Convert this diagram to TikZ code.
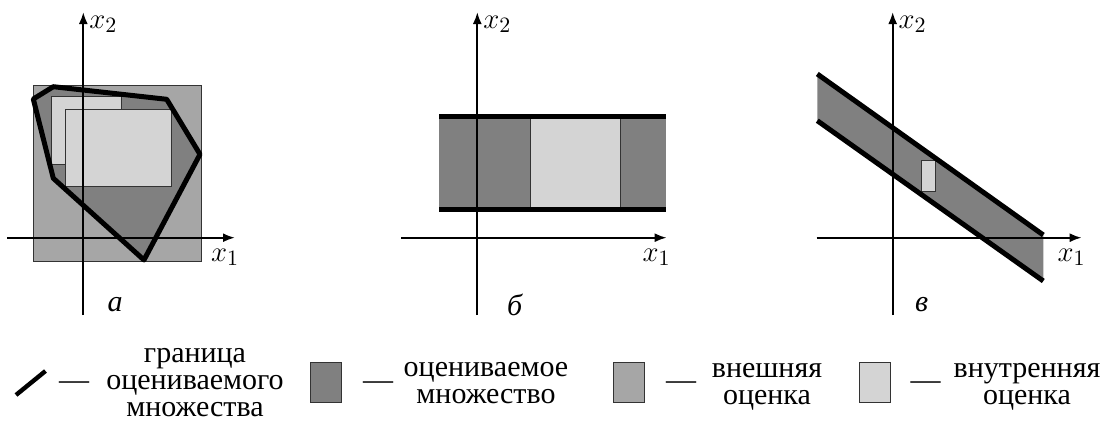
\documentclass[tikz,border=0pt]{standalone}
\usepackage{fontspec}
\setmainfont{Liberation Serif}
\usetikzlibrary{arrows.meta}
\definecolor{setgray}{gray}{0.5}
\definecolor{outergray}{gray}{0.65}
\definecolor{innergray}{gray}{0.83}
\tikzset{
  axis/.style={line width=1.1pt, -{Latex[length=6pt,width=4.5pt]}},
  bound/.style={line width=2.5pt, line join=round},
  thinbox/.style={draw=black!80, line width=0.5pt},
  legbox/.style={thinbox, minimum width=15.5pt, minimum height=20pt, inner sep=0pt},
  legtext/.style={align=center, inner sep=0pt},
}

\begin{document}
\begin{tikzpicture}[x=0.5pt, y=-0.5pt, font=\fontsize{15}{13.5}\selectfont]
  \useasboundingbox (0,0) rectangle (1109,423);
  % panel a: outer and inner estimates of a polygon
  \draw[thinbox, fill=outergray] (33.3,85.7) rectangle (201,261.7);
  \fill[setgray] (33.3,99) -- (53.3,86.7) -- (166.7,99.3) -- (200,154.3)
    -- (144,260) -- (53.3,178.3) -- cycle;
  \draw[thinbox, fill=innergray] (51,96) rectangle (121,164);
  \draw[thinbox, fill=innergray] (65.7,109.3) rectangle (171.7,186.7);
  \draw[bound] (33.3,99) -- (53.3,86.7) -- (166.7,99.3) -- (200,154.3)
    -- (144,260) -- (53.3,178.3) -- cycle;
  % panel b: horizontal strip
  \fill[setgray] (439.3,116.7) rectangle (666,209.3);
  \draw[thinbox, fill=innergray] (530,116.7) rectangle (620.7,209.3);
  \draw[bound] (439.3,116.7) -- (666,116.7);
  \draw[bound] (439.3,209.3) -- (666,209.3);
  % panel c: slanted strip
  \fill[setgray] (817.3,74) -- (1043.3,235) -- (1043.3,281) -- (817.3,120.7) -- cycle;
  \draw[thinbox, fill=innergray] (921.7,160) rectangle (935,191);
  \draw[bound] (817.3,74) -- (1043.3,235);
  \draw[bound] (817.3,120.7) -- (1043.3,281);
  % axes
  \foreach \ox/\xl/\xr/\lx/\nm/\lab in {83.3/7/235/115/a/а, 477.3/401/666.7/515/b/б, 892.7/816.7/1081.7/921.7/c/в} {
    \coordinate (\nm-l) at (\xl,237.7);
    \coordinate (\nm-r) at (\xr,237.7);
    \coordinate (\nm-b) at (\ox,315);
    \coordinate (\nm-t) at (\ox,12);
    \draw[axis] (\nm-l) -- (\nm-r);
    \draw[axis] (\nm-b) -- (\nm-t);
    \node (\nm-x1) at (\xr-10,257) {$x_1$};
    \node (\nm-x2) at (\ox+20,24) {$x_2$};
    \node (\nm-cap) at (\lx,305) {\textit{\lab}};
  }
  % legend
  \coordinate (legline-a) at (16,395);
  \coordinate (legline-b) at (45.5,371);
  \draw[bound, line width=2.2pt] (legline-a) -- (legline-b);
  \node (dash1) at (74,386) {---};
  \node[legtext] (txt1) at (195,383) {граница\\оцениваемого\\множества};
  \node[legbox, fill=setgray] (box2) at (325.5,382) {};
  \node (dash2) at (378,386) {---};
  \node[legtext] (txt2) at (486,383.5) {оцениваемое\\множество};
  \node[legbox, fill=outergray] (box3) at (628.7,382) {};
  \node (dash3) at (681,386) {---};
  \node[legtext] (txt3) at (767,386.5) {внешняя\\оценка};
  \node[legbox, fill=innergray] (box4) at (874.5,382) {};
  \node (dash4) at (925.6,386) {---};
  \node[legtext] (txt4) at (1027,386.5) {внутренняя\\оценка};
\end{tikzpicture}
\end{document}
